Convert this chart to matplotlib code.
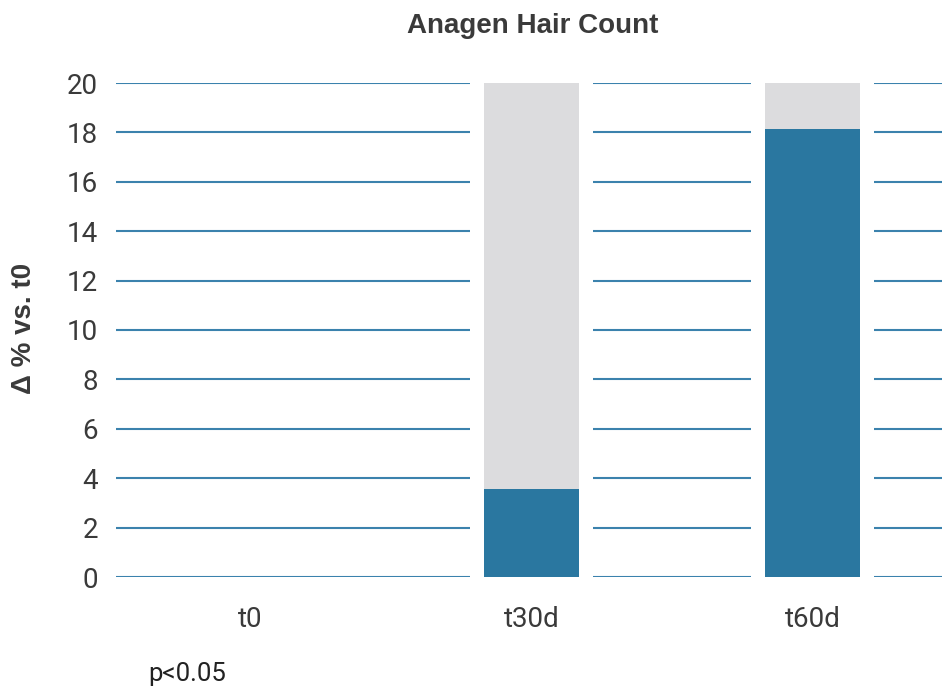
import matplotlib.pyplot as plt

# data
categories = ["t0", "t30d", "t60d"]
values = [0, 3.55, 18.15]
scale_max = [0, 20, 20]   # grey backdrop bars
y_ticks = list(range(0, 21, 2))

blue = "#2a77a0"
grid_blue = "#3b82ad"
grey = "#dcdcde"
txt = "#3a3a3a"

plt.rcParams['font.family'] = ['Roboto', 'DejaVu Sans']

fig = plt.figure(figsize=(9.42, 6.89), dpi=100)
ax = fig.add_axes([110 / 942, 112 / 689, 843 / 942, 494 / 689])

x = list(range(len(categories)))
ax.set_xlim(-0.5, 2.5)
ax.set_ylim(0, 20)

# gridlines, broken around the bars by white padding bars
ax.hlines(y_ticks, -0.48, 2.5, colors=grid_blue, linewidth=1.5, zorder=1)
pad = [20 if m > 0 else 0 for m in scale_max]
ax.bar(x, pad, width=0.435, color="white", zorder=2)
ax.bar(x, scale_max, width=0.34, color=grey, zorder=3)
ax.bar(x, values, width=0.34, color=blue, zorder=4)

for s in ax.spines.values():
    s.set_visible(False)
ax.set_yticks(y_ticks)
ax.set_xticks(x)
ax.set_xticklabels(categories)
ax.tick_params(axis="y", length=0, pad=8.5, labelsize=20, labelcolor=txt)
ax.tick_params(axis="x", length=0, pad=21, labelsize=20, labelcolor=txt)

fig.text(24 / 942, 1 - 328 / 689, "Δ % vs. t0", rotation=90, ha="center", va="center",
         fontsize=20, fontweight="bold", color=txt, family=["Liberation Sans", "DejaVu Sans"])
fig.text(533 / 942, 1 - 33 / 689, "Anagen Hair Count", ha="center", va="baseline",
         fontsize=20, fontweight="bold", color=txt, family=["Liberation Sans", "DejaVu Sans"])
fig.text(148 / 942, 1 - 681 / 689, "p<0.05", ha="left", va="baseline",
         fontsize=18.5, color="#222222")

fig.savefig("out.png", dpi=100)
